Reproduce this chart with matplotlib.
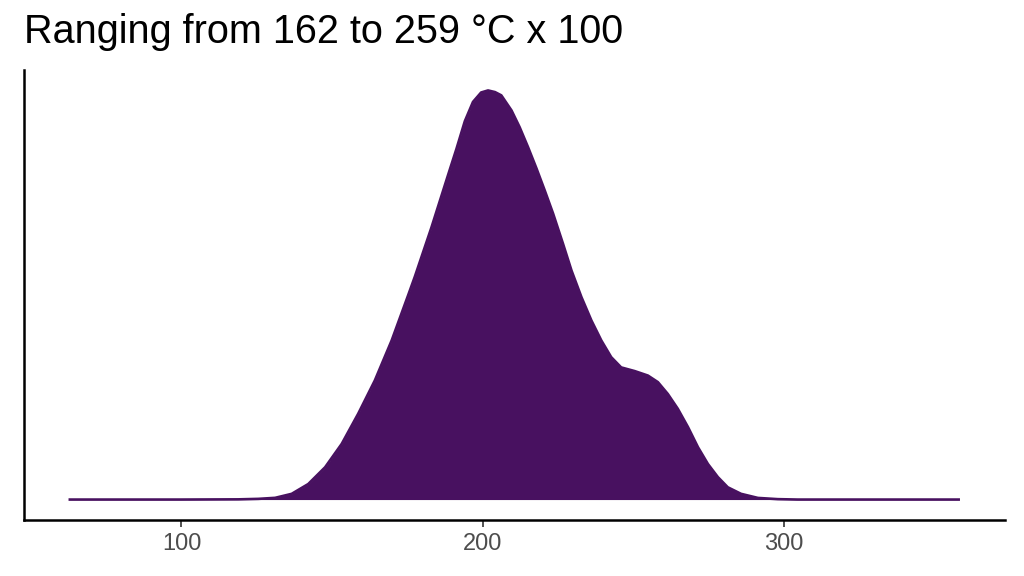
import numpy as np
import matplotlib.pyplot as plt

plt.rcParams['font.family'] = ['Liberation Sans', 'DejaVu Sans']

# Density curve (relative height, peak = 1)
temp = [62.5, 100.0, 118.9, 125.5, 131.1, 136.6, 142.1, 147.7, 153.2, 158.7,
        164.2, 169.8, 175.3, 177.5, 183.0, 188.6, 191.3, 194.1, 196.8, 199.5,
        201.8, 204.1, 206.2, 209.6, 212.3, 215.1, 217.9, 220.6, 223.4, 226.7,
        229.5, 232.8, 236.1, 239.4, 242.7, 246.0, 250.5, 254.9, 258.2, 261.5,
        264.8, 268.2, 271.5, 274.8, 278.1, 281.4, 285.8, 291.4, 298.0, 304.6,
        358.5]
density = [0.0, 0.0, 0.0005, 0.0017, 0.0042, 0.014, 0.038, 0.079, 0.136, 0.210,
           0.291, 0.389, 0.500, 0.545, 0.665, 0.795, 0.857, 0.925, 0.972, 0.995,
           1.0, 0.996, 0.988, 0.951, 0.910, 0.861, 0.809, 0.756, 0.699, 0.625,
           0.560, 0.495, 0.438, 0.389, 0.348, 0.323, 0.314, 0.303, 0.287, 0.258,
           0.222, 0.177, 0.128, 0.087, 0.055, 0.030, 0.014, 0.004, 0.001, 0.0,
           0.0]
x_ticks = [100, 200, 300]
title = "Ranging from 162 to 259 °C x 100"

color = "#481160"

fig = plt.figure(figsize=(10.24, 5.76), dpi=100)
ax = fig.add_axes([0.0234, 0.0972, 0.9576, 0.7813])

ax.fill_between(temp, density, 0, color=color, linewidth=0)
ax.plot(temp, density, color=color, linewidth=1.9, solid_capstyle="butt",
        solid_joinstyle="round")

span = temp[-1] - temp[0]
ax.set_xlim(temp[0] - 0.05 * span, temp[-1] + 0.05 * span)
ax.set_ylim(-0.05, 1.05)

ax.set_xticks(x_ticks)
ax.set_xticklabels([str(t) for t in x_ticks])
ax.tick_params(axis="x", length=5, width=1.2, color="#333333",
               labelcolor="#4d4d4d", labelsize=17, pad=4)
ax.set_yticks([])

for side in ["top", "right"]:
    ax.spines[side].set_visible(False)
for side in ["left", "bottom"]:
    ax.spines[side].set_linewidth(1.8)
    ax.spines[side].set_color("black")

fig.text(0.0234, 0.9248, title, fontsize=28.5, color="black", ha="left", va="baseline")

fig.savefig("out.png", dpi=100)
